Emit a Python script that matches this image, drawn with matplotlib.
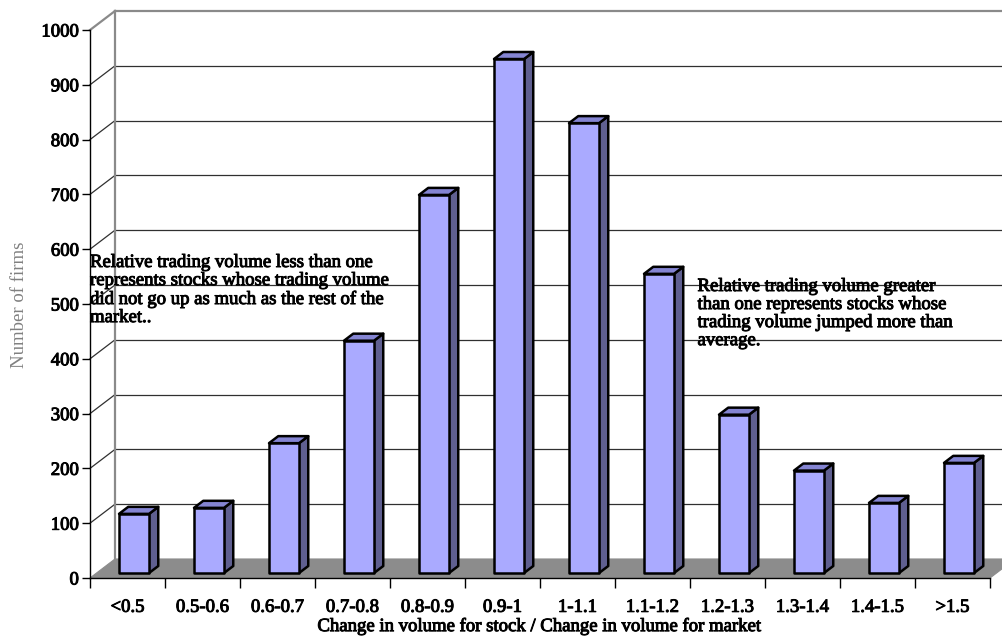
import numpy as np
import matplotlib.pyplot as plt
import matplotlib.patheffects as pe
from matplotlib.patches import Polygon

categories = ['<0.5', '0.5-0.6', '0.6-0.7', '0.7-0.8', '0.8-0.9', '0.9-1',
              '1-1.1', '1.1-1.2', '1.2-1.3', '1.3-1.4', '1.4-1.5', '>1.5']
firms = [108, 119, 237, 424, 690, 938, 821, 546, 289, 187, 128, 201]
yticks = list(range(0, 1001, 100))

xlabel = 'Change in volume for stock / Change in volume for market'
ylabel = 'Number of firms'
note_left = ('Relative trading volume less than one\n'
             'represents stocks whose trading volume\n'
             'did not go up as much as the rest of the\n'
             'market..')
note_right = ('Relative trading volume greater\n'
              'than one represents stocks whose\n'
              'trading volume jumped more than\n'
              'average.')

plt.rcParams['font.family'] = ['Liberation Serif', 'DejaVu Serif']
heavy = [pe.withStroke(linewidth=0.7, foreground='black')]

W, H = 1003, 637
fig = plt.figure(figsize=(W / 100, H / 100), dpi=100)
ax = fig.add_axes([90 / W, 59 / H, 900 / W, 548 / H])
n = len(categories)
ax.set_xlim(0, n)
ax.set_ylim(0, 1000)

# depth offset of the 3d box (in data units)
dx, dy = 1 / 3, 34.7

# floor
ax.add_patch(Polygon([(0, 0), (n, 0), (n + dx, dy), (dx, dy)], closed=True,
                     facecolor='#8c8c8c', edgecolor='#8c8c8c', lw=0.8,
                     clip_on=False, zorder=1))

# back wall gridlines + side wall diagonals
for v in yticks[1:]:
    c = '#8a8a8a' if v == 1000 else '#303030'
    lw = 1.6 if v == 1000 else 0.9
    ax.plot([dx, n + dx], [v + dy, v + dy], color=c, lw=lw, clip_on=False, zorder=1)
    ax.plot([0, dx], [v, v + dy], color=c, lw=lw, clip_on=False, zorder=1)
ax.plot([dx, dx], [dy, 1000 + dy], color='#8a8a8a', lw=1.6, clip_on=False, zorder=1)

# bars
f, d, w = 0.26, 0.37, 0.4
for i, val in enumerate(firms):
    x0 = i + 0.3 + f * dx
    y0 = f * dy
    x1 = x0 + w
    y1 = y0 + val
    ox, oy = d * dx, d * dy
    ax.add_patch(Polygon([(x1, y0), (x1 + ox, y0 + oy), (x1 + ox, y1 + oy), (x1, y1)],
                         closed=True, facecolor='#5f5f90', edgecolor='black', lw=1.8,
                         joinstyle='round', clip_on=False, zorder=3))
    ax.add_patch(Polygon([(x0, y1), (x1, y1), (x1 + ox, y1 + oy), (x0 + ox, y1 + oy)],
                         closed=True, facecolor='#8484d2', edgecolor='black', lw=1.8,
                         joinstyle='round', clip_on=False, zorder=3))
    ax.add_patch(Polygon([(x0, y0), (x1, y0), (x1, y1), (x0, y1)],
                         closed=True, facecolor='#aaaaff', edgecolor='black', lw=1.8,
                         joinstyle='round', clip_on=False, zorder=4))

# axes styling
for s in ['top', 'right']:
    ax.spines[s].set_visible(False)
ax.spines['left'].set_color('black')
ax.spines['bottom'].set_color('black')
ax.spines['left'].set_linewidth(1.0)
ax.spines['bottom'].set_linewidth(1.0)
ax.set_yticks(yticks)
ax.set_yticklabels([str(v) for v in yticks], fontsize=13.5)
ax.tick_params(axis='y', length=6, width=1, pad=2)
ax.set_xticks(np.arange(n + 1))
ax.set_xticklabels([])
ax.set_xticks(np.arange(n) + 0.5, minor=True)
ax.set_xticklabels(categories, minor=True, fontsize=13.5)
ax.tick_params(axis='x', which='major', length=7, width=1)
ax.tick_params(axis='x', which='minor', length=0, pad=15)
ax.patch.set_visible(False)
for t in ax.get_yticklabels() + ax.get_xticklabels(minor=True):
    t.set_path_effects(heavy)

ax.set_xlabel(xlabel, fontsize=13.5, labelpad=1, path_effects=heavy)
fig.text(20 / W, 1 - 305 / H, ylabel, rotation=90, fontsize=13.5, color='#808080',
         ha='center', va='center')

ax.text(0.0, (578 - 254) / 0.548, note_left, fontsize=13.5, linespacing=1.08,
        ha='left', va='top', zorder=5, path_effects=heavy)
ax.text(8.1, (578 - 278) / 0.548, note_right, fontsize=13.5, linespacing=1.08,
        ha='left', va='top', zorder=5, path_effects=heavy)

fig.savefig('out.png', dpi=100)
